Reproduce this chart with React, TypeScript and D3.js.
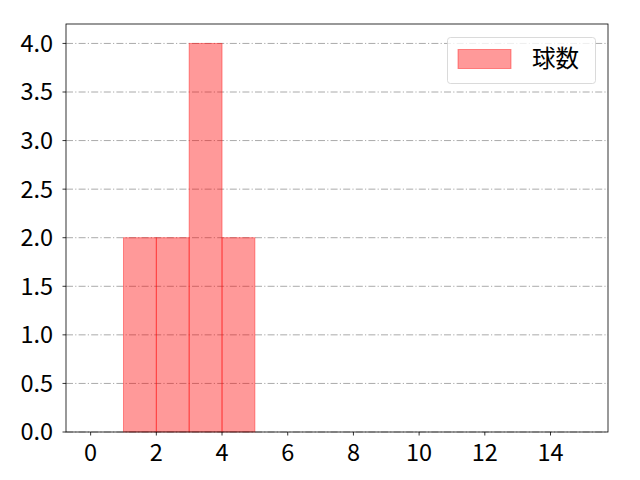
import React from 'react';
import * as d3 from 'd3';

// histogram bins (pitch count per bin)
const binEdges = [1, 2, 3, 4, 5];
const binCounts = [2, 2, 4, 2];
const xTicks = [0, 2, 4, 6, 8, 10, 12, 14];
const yTicks = [0, 0.5, 1.0, 1.5, 2.0, 2.5, 3.0, 3.5, 4.0];
const seriesLabel = '球数';

const W = 640;
const H = 480;
const margin = { top: 24, right: 32, bottom: 48, left: 66 };
const font = '"Noto Sans CJK JP", "Noto Sans", sans-serif';
const fs = 23.5;

export default function App() {
  const x = d3.scaleLinear().domain([-0.75, 15.75]).range([margin.left, W - margin.right]);
  const y = d3.scaleLinear().domain([0, 4.2]).range([H - margin.bottom, margin.top]);
  const bins = binCounts.map((c, i) => ({ x0: binEdges[i], x1: binEdges[i + 1], count: c }));

  return (
    <svg width={W} height={H} style={{ position: 'absolute', left: 0, top: 0, background: '#fff' }} fontFamily={font}>
      {/* Grid */}
      {yTicks.map(t => (
        <line key={t} x1={margin.left} x2={W - margin.right} y1={y(t)} y2={y(t)}
          stroke="#aaaaaa" strokeWidth={1} strokeDasharray="7,2.2,1.2,2.2" />
      ))}
      {/* Bars */}
      {bins.map((b, i) => (
        <rect key={i} x={x(b.x0)} y={y(b.count)} width={x(b.x1) - x(b.x0)} height={y(0) - y(b.count)}
          fill="rgba(255,0,0,0.4)" stroke="rgba(255,0,0,0.4)" strokeWidth={1} />
      ))}
      {/* Frame */}
      <rect x={margin.left} y={margin.top} width={W - margin.left - margin.right} height={H - margin.top - margin.bottom}
        fill="none" stroke="#000" strokeWidth={0.8} />
      {/* X axis */}
      {xTicks.map(t => (
        <g key={t} transform={`translate(${x(t)},${H - margin.bottom})`}>
          <line y2={3.5} stroke="#000" strokeWidth={0.8} />
          <text y={29} textAnchor="middle" fontSize={fs} fill="#000">{t}</text>
        </g>
      ))}
      {/* Y axis */}
      {yTicks.map(t => (
        <g key={t} transform={`translate(${margin.left},${y(t)})`}>
          <line x2={-3.5} stroke="#000" strokeWidth={0.8} />
          <text x={-13} dy="0.36em" textAnchor="end" fontSize={fs} fill="#000">{t.toFixed(1)}</text>
        </g>
      ))}
      {/* Legend */}
      <g>
        <rect x={447.5} y={37.5} width={148} height={46} rx={3} fill="rgba(255,255,255,0.8)" stroke="#d0d0d0" strokeWidth={0.8} />
        <rect x={458} y={49.5} width={53} height={19} fill="rgba(255,0,0,0.4)" stroke="rgba(255,0,0,0.4)" />
        <text x={532} y={67} fontSize={fs} fill="#000">{seriesLabel}</text>
      </g>
    </svg>
  );
}
